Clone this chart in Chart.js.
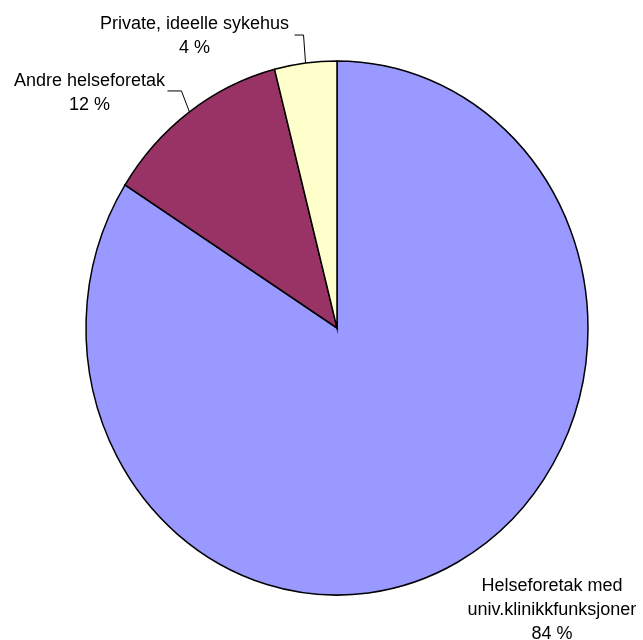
<!DOCTYPE html>
<html>
<head>
<meta charset="utf-8">
<script src="https://cdn.jsdelivr.net/npm/chart.js@4.4.1/dist/chart.umd.min.js"></script>
<style>
  html, body { margin: 0; padding: 0; background: #fff; }
  #wrap { width: 643px; height: 640px; }
</style>
</head>
<body>
<div id="wrap"><canvas id="pie" width="643" height="640"></canvas></div>
<script>
const categories = ['Helseforetak med\nuniv.klinikkfunksjoner', 'Andre helseforetak', 'Private, ideelle sykehus'];
const shares = [84, 12, 4];
const sliceColors = ['#9999FF', '#993366', '#FFFFCC'];

// where each label sits relative to the point on the rim at the slice's mid angle
const labelPlacement = [
  { dx: 94, dy: 47, leader: false },
  { dx: -100, dy: -20, leader: true, elbowDx: -8, elbowDy: -21, endDx: -22 },
  { dx: -111, dy: -28, leader: true, elbowDx: -2, elbowDy: -28, endDx: -11 }
];

const stretchY = 1.064;   // the pie is drawn a little taller than wide
const FONT = '18px "Liberation Sans", Arial, sans-serif';
const LINE_H = 24;

const stretchPlugin = {
  id: 'stretch',
  beforeDatasetsDraw(chart) {
    const arc = chart.getDatasetMeta(0).data[0];
    const ctx = chart.ctx;
    ctx.save();
    ctx.translate(arc.x, arc.y);
    ctx.scale(1, stretchY);
    ctx.translate(-arc.x, -arc.y);
  },
  afterDatasetsDraw(chart) {
    chart.ctx.restore();
  }
};

const labelPlugin = {
  id: 'sliceLabels',
  afterDraw(chart) {
    const ctx = chart.ctx;
    const meta = chart.getDatasetMeta(0);
    ctx.save();
    ctx.font = FONT;
    ctx.fillStyle = '#000';
    ctx.strokeStyle = '#000';
    ctx.lineWidth = 1;
    ctx.textAlign = 'center';
    ctx.textBaseline = 'alphabetic';
    meta.data.forEach((arc, i) => {
      const p = arc.getProps(['x', 'y', 'startAngle', 'endAngle', 'outerRadius'], true);
      const mid = (p.startAngle + p.endAngle) / 2;
      const ax = p.x + Math.cos(mid) * p.outerRadius;
      const ay = p.y + Math.sin(mid) * p.outerRadius * stretchY;
      const place = labelPlacement[i];
      const lines = categories[i].split('\n').concat([shares[i] + ' %']);
      const tx = ax + place.dx;
      const ty = ay + place.dy;
      const first = ty - (lines.length - 1) * LINE_H / 2 + 6;
      lines.forEach((ln, k) => ctx.fillText(ln, tx, first + k * LINE_H));

      if (place.leader) {
        const ex = ax + place.elbowDx, ey = ay + place.elbowDy;
        ctx.beginPath();
        ctx.moveTo(ax, ay);
        ctx.lineTo(ex, ey);
        ctx.lineTo(ax + place.endDx, ey);
        ctx.stroke();
      }
    });
    ctx.restore();
  }
};

new Chart(document.getElementById('pie'), {
  type: 'pie',
  data: {
    labels: categories,
    datasets: [{
      data: shares,
      backgroundColor: sliceColors,
      borderColor: '#000',
      borderWidth: 1.5,
      borderJoinStyle: 'miter'
    }]
  },
  options: {
    responsive: false,
    animation: false,
    radius: 251,
    layout: { padding: { left: 60, right: 29, top: 30, bottom: 14 } },
    plugins: {
      legend: { display: false },
      tooltip: { enabled: false }
    }
  },
  plugins: [stretchPlugin, labelPlugin]
});
</script>
</body>
</html>
